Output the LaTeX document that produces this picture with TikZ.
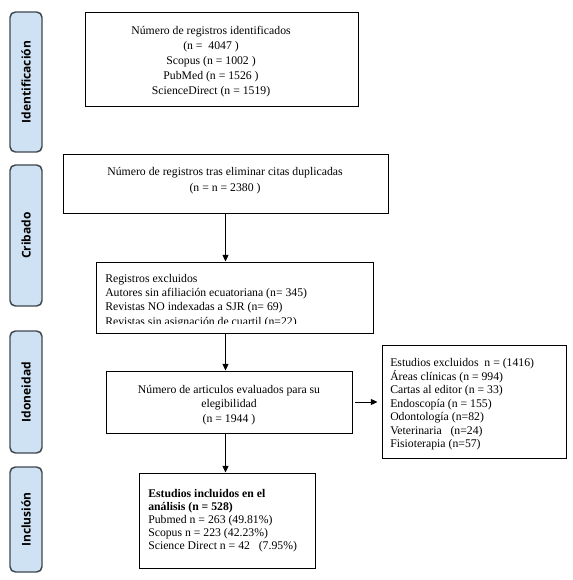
\documentclass[tikz,border=0pt]{standalone}
\usepackage{fontspec}
\setmainfont{Liberation Serif}
\newfontfamily\stagefont{Open Sans}
\usepackage{xcolor}
\usetikzlibrary{arrows.meta}
\definecolor{stageblue}{RGB}{207,226,244}
\definecolor{stageline}{RGB}{62,70,78}

\begin{document}
\begin{tikzpicture}[x=0.75pt, y=-0.75pt,
  box/.style={draw, line width=0.7pt, inner sep=0pt},
  stage/.style={draw=stageline, fill=stageblue, line width=1.1pt, rounded corners=4pt,
    rotate=90, minimum height=24pt, inner sep=0pt,
    font=\stagefont\bfseries\fontsize{9}{10}\selectfont},
  arr/.style={-{Triangle[length=5pt,width=4.5pt]}, line width=0.7pt},
  txt/.style={inner sep=0pt}]
  \useasboundingbox (0,0) rectangle (572,580);
  % Stages
  \node[stage, minimum width=105pt] (sident) at (26,82) {Identificación};
  \node[stage, minimum width=105.75pt] (scrib) at (26,235.5) {Cribado};
  \node[stage, minimum width=91.5pt] (sidon) at (26,392) {Idoneidad};
  \node[stage, minimum width=78.75pt] (sincl) at (26,519.5) {Inclusión};
  % Boxes
  \node[box, minimum width=204.75pt, minimum height=70.5pt] (ident) at (221.5,59) {};
  \node[box, minimum width=243.75pt, minimum height=44.25pt] (dup) at (225.5,183.5) {};
  \node[box, minimum width=207.75pt, minimum height=53.25pt] (exc1) at (234.5,297.5) {};
  \node[box, minimum width=184.5pt, minimum height=46.5pt] (eval) at (229,402) {};
  \node[box, minimum width=138pt, minimum height=84.75pt] (exc2) at (474,401.5) {};
  \node[box, minimum width=132pt, minimum height=71.25pt] (incl) at (227,520.5) {};
  % Texts
  \node[txt, align=center, font=\fontsize{8.8}{11.25}\selectfont] (identtxt) at (211,62)
    {Número de registros identificados\\(n =~ 4047 )\\Scopus (n = 1002 )\\PubMed (n = 1526 )\\ScienceDirect (n = 1519)};
  \node[txt, align=center, font=\fontsize{8.8}{12}\selectfont] (duptxt) at (225,181)
    {Número de registros tras eliminar citas duplicadas\\(n = n = 2380 )};
  \begin{scope}
    \clip (96,262) rectangle (373,323);
    \node[txt, align=left, anchor=north west, font=\fontsize{8.8}{10.7}\selectfont] (exc1txt) at (105,274)
      {Registros excluidos\\Autores sin afiliación ecuatoriana (n= 345)\\Revistas NO indexadas a SJR (n= 69)\\Revistas sin asignación de cuartil (n=22)};
  \end{scope}
  \node[txt, align=center, font=\fontsize{8.8}{10.9}\selectfont] (evaltxt) at (229,405)
    {Número de articulos evaluados para su\\elegibilidad\\(n = 1944 )};
  \node[txt, align=left, anchor=north west, font=\fontsize{8.8}{10.1}\selectfont] (exc2txt) at (390,358.5)
    {Estudios excluidos~ n = (1416)\\Áreas clínicas (n = 994)\\Cartas al editor (n = 33)\\Endoscopía (n = 155)\\Odontología (n=82)\\Veterinaria~~ (n=24)\\Fisioterapia (n=57)};
  \node[txt, align=left, anchor=north west, font=\fontsize{8.8}{9.75}\selectfont] (incltxt) at (148,489)
    {\textbf{Estudios incluidos en el}\\\textbf{análisis (n = 528)}\\Pubmed n = 263 (49.81\%)\\Scopus n = 223 (42.23\%)\\Science Direct n = 42~~~(7.95\%)};
  % Arrows
  \draw[arr] (dup.south) -- (dup.south |- exc1.north);
  \draw[arr] (dup.south |- exc1.south) -- (dup.south |- eval.north);
  \draw[arr] (dup.south |- eval.south) -- (dup.south |- incl.north);
  \draw[arr, shorten <=2pt, shorten >=3pt] (eval.east) -- (eval.east -| exc2.west);
\end{tikzpicture}
\end{document}
